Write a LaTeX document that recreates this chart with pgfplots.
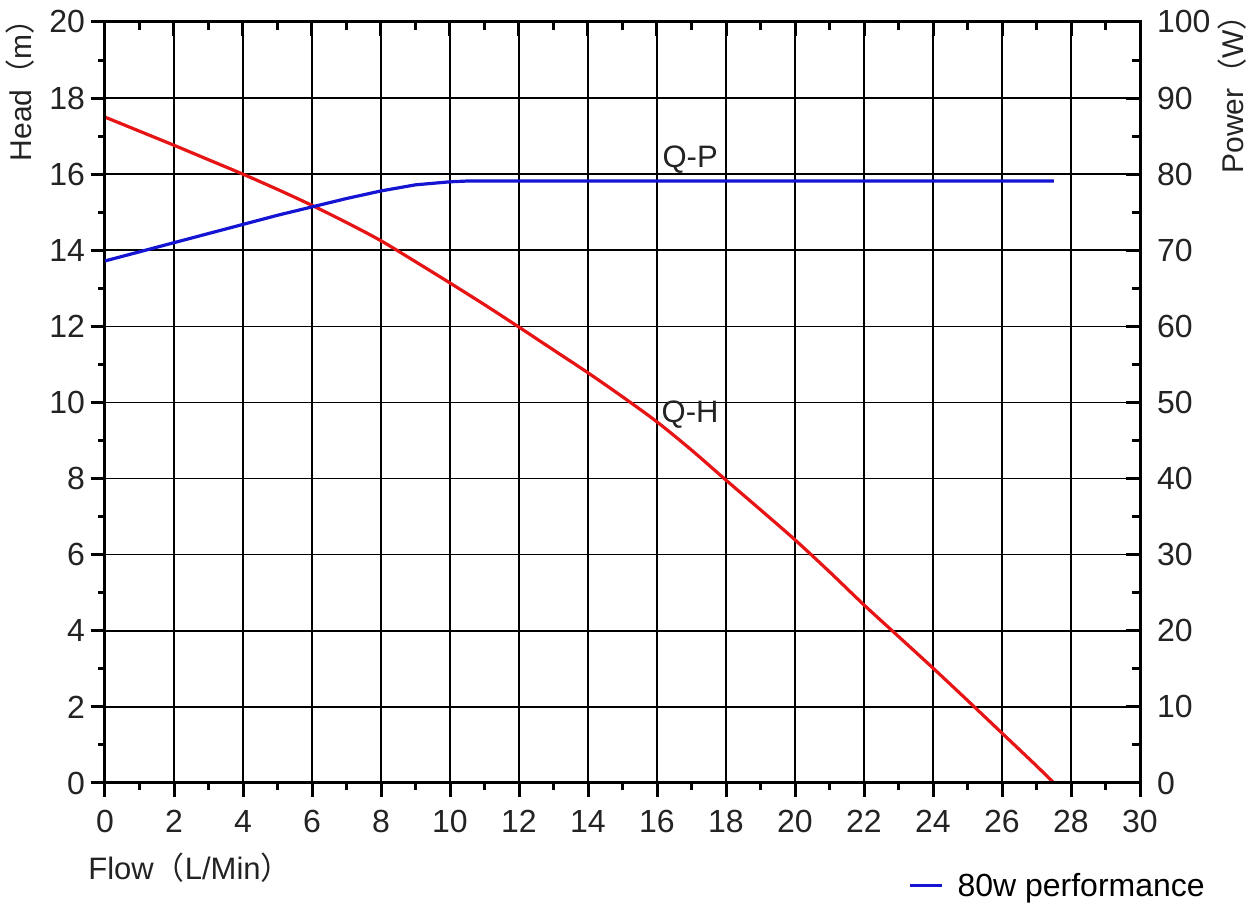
\documentclass[border=0pt]{standalone}
\usepackage{pgfplots}
\pgfplotsset{compat=1.18}
\usepackage{fontspec}
\setmainfont{Liberation Sans}
\newfontfamily\cjk{Noto Sans CJK SC}
\definecolor{qh}{RGB}{230,20,20}
\definecolor{qp}{RGB}{20,20,210}
\definecolor{txt}{RGB}{35,35,35}
\begin{document}
\begin{tikzpicture}
\useasboundingbox (-52.5pt,-65pt) rectangle (574.5pt,391.5pt);
\begin{axis}[
  at={(0pt,0pt)}, anchor=south west, scale only axis,
  width=517.5pt, height=380.5pt,
  xmin=0, xmax=30, ymin=0, ymax=20,
  xtick={0,2,...,30}, ytick={0,2,...,20},
  minor x tick num=1, minor y tick num=1,
  grid=major, major grid style={black, line width=0.8pt},
  axis line style={line width=1.5pt},
  tick align=outside, xtick pos=left, ytick pos=left,
  major tick length=7pt, minor tick length=3.5pt,
  every tick/.style={black, line width=1.5pt},
  /pgf/number format/assume math mode=true,
  ticklabel style={font=\fontsize{16}{19}\selectfont, text=txt},
  xticklabel style={yshift=-3pt},
  yticklabel style={xshift=0.5pt},
  clip=false,
]
\addplot[qh, line width=1.6pt, smooth] coordinates {
(0,17.5) (1,17.13) (2,16.76) (3,16.38) (4,16.0) (5,15.6) (6,15.18) (7,14.73)
(8,14.25) (9,13.7) (10,13.14) (11,12.57) (12,11.98) (13,11.38) (14,10.78)
(15,10.15) (16,9.49) (17,8.75) (18,7.96) (19,7.18) (20,6.39) (21,5.55)
(22,4.68) (23,3.85) (24,3.02) (25,2.17) (26,1.31) (27,0.45) (27.5,0)
};
\node[font=\fontsize{15.5}{18}\selectfont, text=txt] at (axis cs:16.96,16.37) {Q-P};
\node[font=\fontsize{15.5}{18}\selectfont, text=txt] at (axis cs:16.96,9.67) {Q-H};
\end{axis}
\begin{axis}[
  at={(0pt,0pt)}, anchor=south west, scale only axis,
  width=517.5pt, height=380.5pt,
  xmin=0, xmax=30, ymin=0, ymax=100,
  xtick={0,2,...,30}, ytick={0,10,...,100},
  minor x tick num=1, minor y tick num=1,
  axis line style={line width=1.5pt},
  tick align=inside, xtick pos=right, ytick pos=right,
  xticklabels={},
  major tick length=7pt, minor tick length=4pt,
  every tick/.style={black, line width=1.5pt},
  /pgf/number format/assume math mode=true,
  ticklabel style={font=\fontsize{16}{19}\selectfont, text=txt},
  yticklabel style={xshift=5pt},
  clip=false,
  legend style={at={(0.7759,-0.1353)}, anchor=west, draw=none, fill=none,
    inner sep=0pt, font=\fontsize{16}{19}\selectfont, text=black},
  legend image code/.code={\draw[#1, line width=1.5pt] (0pt,0pt) -- (16pt,0pt); \path (21pt,0pt);},
]
\addplot[qp, line width=1.6pt] coordinates {
(0,68.6) (1,69.8) (2,71.0) (3,72.2) (4,73.4) (5,74.6) (6,75.7) (7,76.8)
(8,77.8) (9,78.6) (10,79.0) (10.5,79.1) (27.5,79.1)
};
\addlegendentry{80w performance}
\end{axis}
\node[rotate=90, font=\fontsize{15}{18}\selectfont, text=txt] at (-42.5pt,350pt) {Head{\cjk（}m{\cjk）}};
\node[rotate=90, font=\fontsize{15}{18}\selectfont, text=txt] at (563.5pt,348pt) {Power{\cjk（}W{\cjk）}};
\node[anchor=west, inner sep=0pt, font=\fontsize{15.5}{18}\selectfont, text=txt] at (-8.5pt,-42.5pt) {Flow{\cjk（}L/Min{\cjk）}};
\end{tikzpicture}
\end{document}
